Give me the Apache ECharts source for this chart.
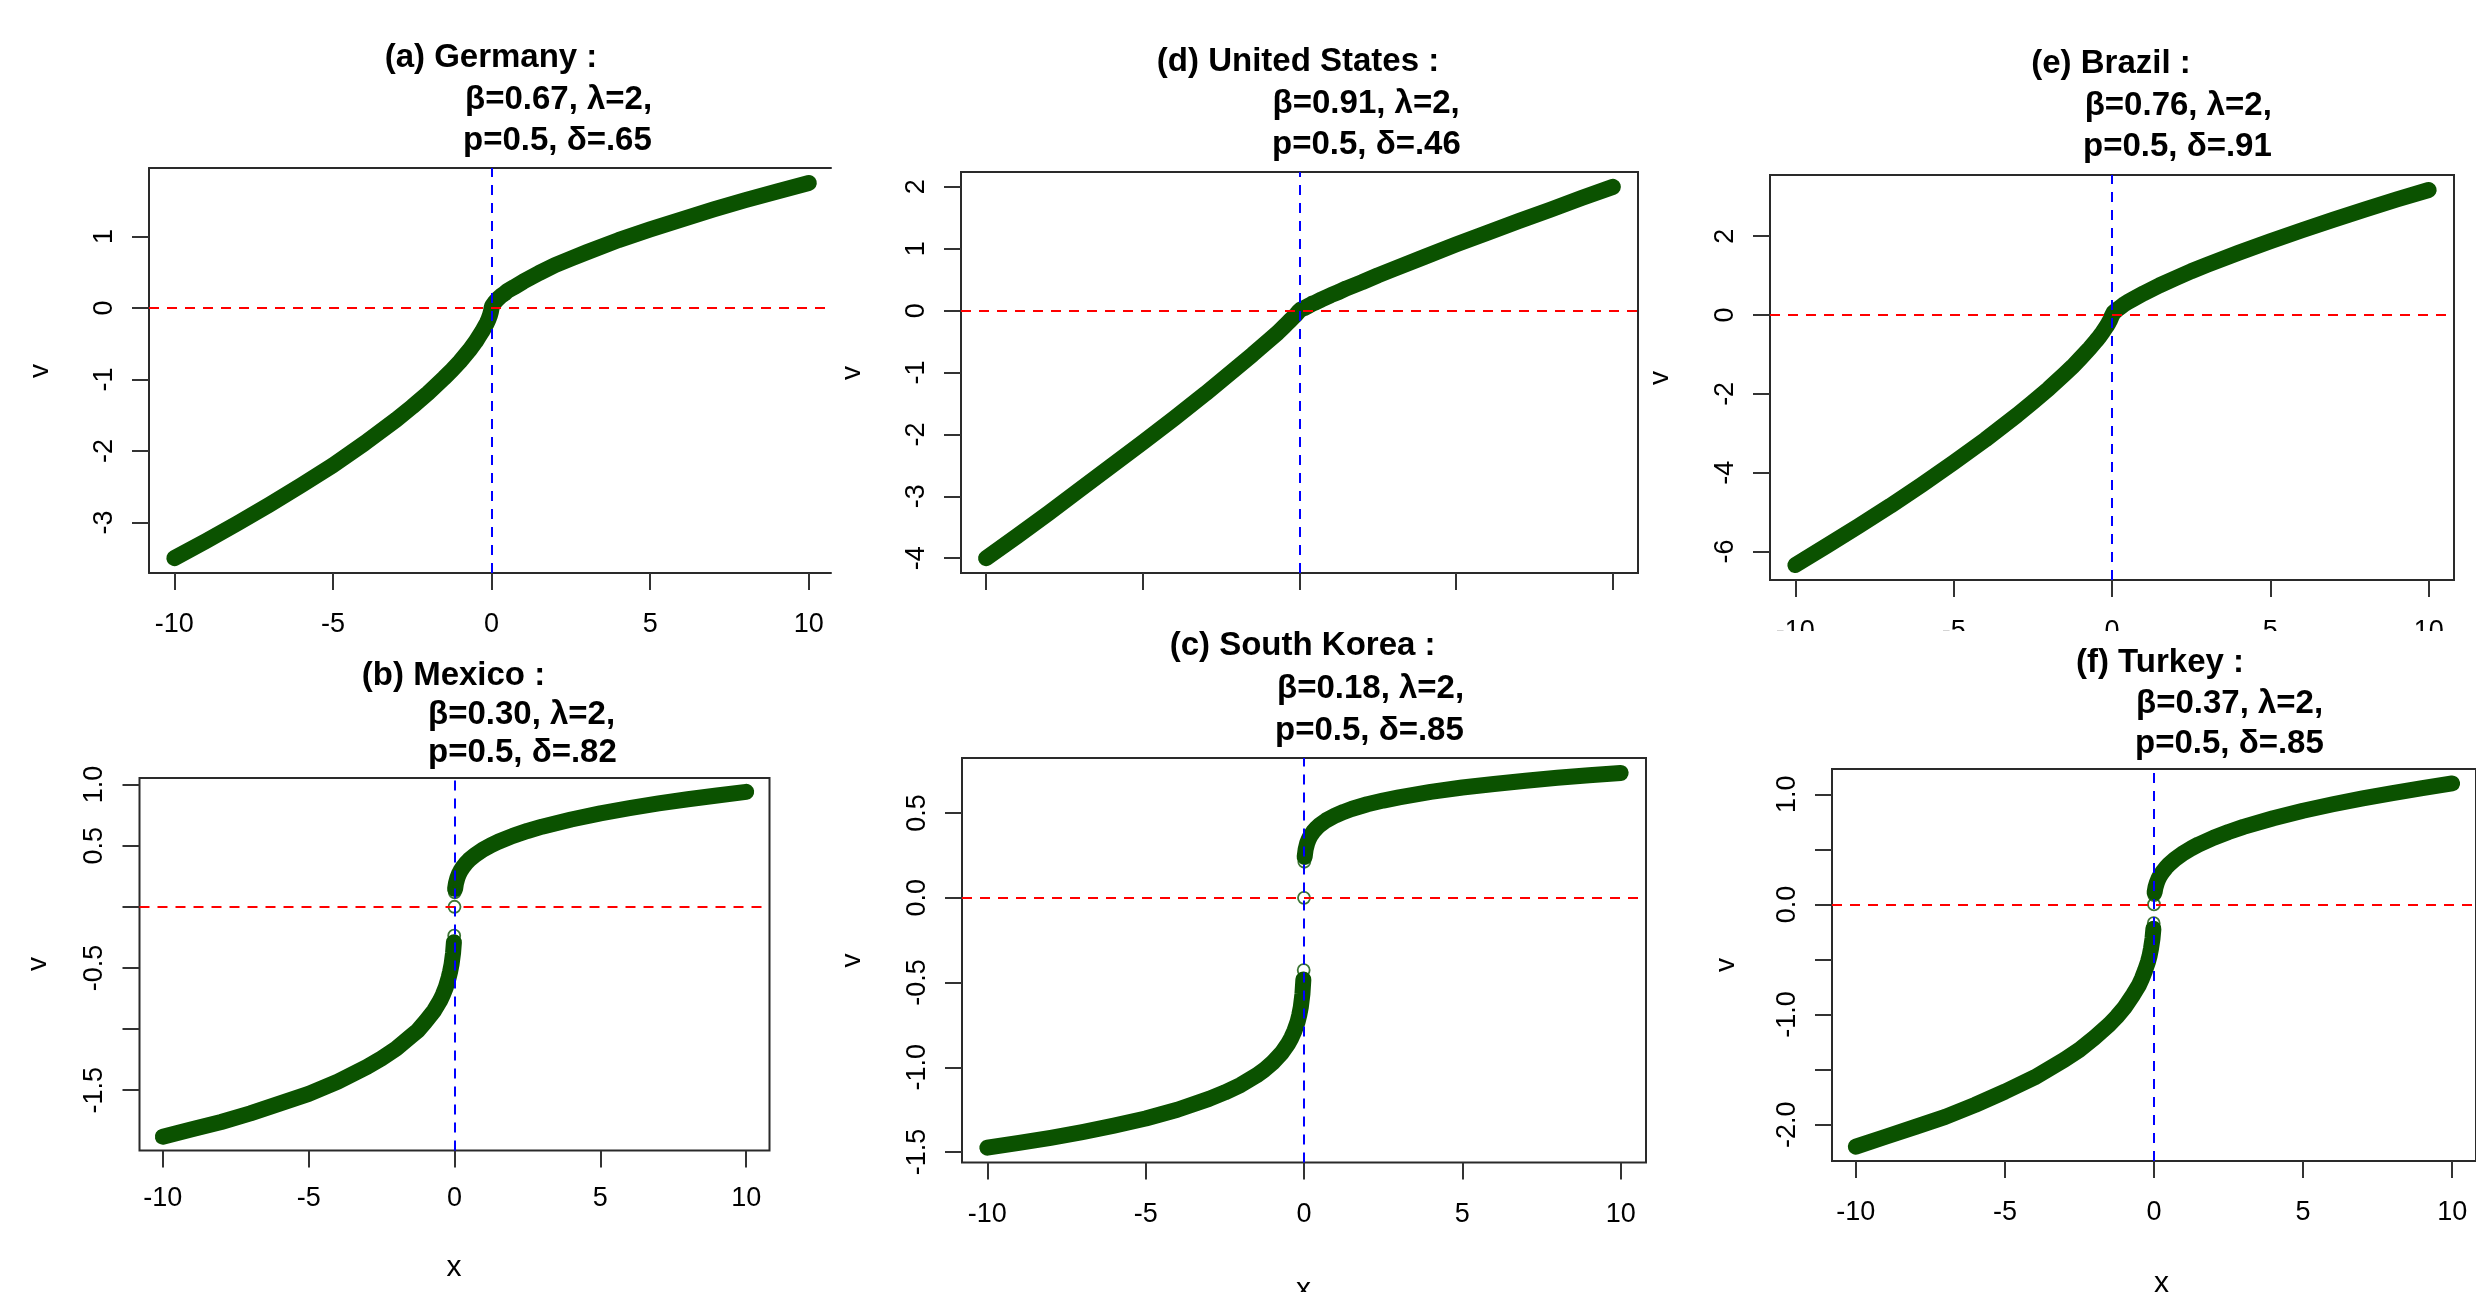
<!DOCTYPE html>
<html>
<head>
<meta charset="utf-8">
<script src="https://cdn.jsdelivr.net/npm/echarts@6/dist/echarts.min.js"></script>
<style>html,body{margin:0;padding:0;background:#fff}#c{width:2476px;height:1292px}</style>
</head>
<body>
<div id="c"></div>
<script>
// ---------- data ----------
// |x| sample positions; gains are v(+x), losses are v(-x)
const xGrid = [0.01,0.02,0.05,0.1,0.15,0.2,0.3,0.4,0.5,0.7,1,1.25,1.5,2,2.5,3,4,5,6,7,8,9,10];

const germanyGain = [0.02,0.03,0.05,0.08,0.10,0.13,0.17,0.20,0.24,0.29,0.37,0.43,0.49,0.60,0.69,0.78,0.95,1.10,1.24,1.38,1.51,1.63,1.75];
const germanyLoss = [-0.03,-0.05,-0.10,-0.16,-0.21,-0.25,-0.33,-0.40,-0.47,-0.59,-0.75,-0.87,-0.98,-1.19,-1.38,-1.56,-1.89,-2.20,-2.48,-2.75,-3.01,-3.26,-3.50];

const usaGain = [0.00,0.01,0.02,0.03,0.04,0.06,0.08,0.11,0.13,0.18,0.25,0.30,0.36,0.46,0.57,0.67,0.87,1.07,1.26,1.45,1.63,1.82,2.00];
const usaLoss = [-0.01,-0.01,-0.03,-0.06,-0.09,-0.11,-0.16,-0.21,-0.26,-0.36,-0.49,-0.60,-0.71,-0.92,-1.13,-1.34,-1.74,-2.13,-2.51,-2.89,-3.27,-3.64,-4.00];

const brazilGain = [0.02,0.03,0.06,0.10,0.13,0.16,0.22,0.28,0.33,0.42,0.55,0.65,0.75,0.93,1.11,1.27,1.58,1.87,2.15,2.42,2.68,2.93,3.17];
const brazilLoss = [-0.03,-0.06,-0.11,-0.19,-0.26,-0.32,-0.44,-0.55,-0.65,-0.84,-1.10,-1.31,-1.50,-1.87,-2.21,-2.54,-3.16,-3.74,-4.30,-4.84,-5.35,-5.85,-6.34];

const mexicoGain = [0.118,0.146,0.192,0.236,0.267,0.291,0.328,0.358,0.383,0.423,0.471,0.504,0.532,0.580,0.620,0.655,0.714,0.764,0.806,0.845,0.879,0.910,0.940];
const mexicoLoss = [-0.236,-0.29,-0.38,-0.47,-0.53,-0.58,-0.66,-0.72,-0.77,-0.85,-0.94,-1.01,-1.06,-1.16,-1.24,-1.31,-1.43,-1.53,-1.61,-1.69,-1.76,-1.82,-1.88];

const koreaGain = [0.213,0.241,0.284,0.322,0.346,0.365,0.392,0.413,0.430,0.457,0.487,0.507,0.524,0.552,0.574,0.593,0.625,0.651,0.672,0.691,0.708,0.723,0.737];
const koreaLoss = [-0.426,-0.482,-0.568,-0.644,-0.692,-0.730,-0.784,-0.826,-0.860,-0.914,-0.974,-1.014,-1.048,-1.104,-1.148,-1.186,-1.250,-1.302,-1.344,-1.382,-1.416,-1.446,-1.474];

const turkeyGain = [0.085,0.11,0.155,0.20,0.233,0.259,0.30,0.334,0.363,0.411,0.469,0.509,0.545,0.606,0.658,0.704,0.783,0.851,0.910,0.963,1.012,1.057,1.099];
const turkeyLoss = [-0.17,-0.22,-0.31,-0.40,-0.47,-0.52,-0.60,-0.67,-0.73,-0.82,-0.94,-1.02,-1.09,-1.21,-1.32,-1.41,-1.57,-1.70,-1.82,-1.93,-2.02,-2.11,-2.20];

// tick values / labels
const xTicks = [-10,-5,0,5,10];
const germanyTicks = [-3,-2,-1,0,1];
const usaTicks = [-4,-3,-2,-1,0,1,2];
const brazilTicks = [-6,-4,-2,0,2];
const mexicoTicks = [-1.5,-1,-0.5,0,0.5,1];
const mexicoLabels = [-1.5,-0.5,0.5,1];
const koreaTicks = [-1.5,-1,-0.5,0,0.5];
const turkeyTicks = [-2,-1.5,-1,-0.5,0,0.5,1];
const turkeyLabels = [-2,-1,0,1];

const titles = [
  ['(a) Germany :', 'β=0.67, λ=2,', 'p=0.5, δ=.65'],
  ['(d) United States :', 'β=0.91, λ=2,', 'p=0.5, δ=.46'],
  ['(e) Brazil :', 'β=0.76, λ=2,', 'p=0.5, δ=.91'],
  ['(b) Mexico :', 'β=0.30, λ=2,', 'p=0.5, δ=.82'],
  ['(c) South Korea :', 'β=0.18, λ=2,', 'p=0.5, δ=.85'],
  ['(f) Turkey :', 'β=0.37, λ=2,', 'p=0.5, δ=.85']
];

// ---------- layout ----------
const panels = [
  {gain: germanyGain, loss: germanyLoss, yt: germanyTicks, yl: germanyTicks, dec: 0, split: false,
   grid: {left: 149, top: 168, width: 682, height: 405}, xmax: 10.7, ymin: -3.708, ymax: 1.959,
   noRight: true, xLab: true, xm: 38, t: [491, 58, 465, 99.5, 463, 141], v: [40.6, 371], x: null},
  {gain: usaGain, loss: usaLoss, yt: usaTicks, yl: usaTicks, dec: 0, split: false,
   grid: {left: 961, top: 172, width: 677, height: 401}, xmax: 10.8, ymin: -4.24, ymax: 2.24,
   xLab: false, xm: 38, t: [1298, 62, 1272.6, 103.6, 1272, 145], v: [852, 373], x: null},
  {gain: brazilGain, loss: brazilLoss, yt: brazilTicks, yl: brazilTicks, dec: 0, split: false,
   grid: {left: 1770, top: 175, width: 684, height: 405}, xmax: 10.8, ymin: -6.72, ymax: 3.55,
   xLab: true, xm: 38, t: [2111, 64.3, 2084.7, 105.7, 2083, 147], v: [1660.5, 378], x: null},
  {gain: mexicoGain, loss: mexicoLoss, yt: mexicoTicks, yl: mexicoLabels, dec: 1, split: true,
   grid: {left: 139.5, top: 778, width: 630, height: 372.5}, xmax: 10.8, ymin: -1.993, ymax: 1.053,
   xLab: true, xm: 35, t: [453.5, 676, 428, 715, 428, 752.5], v: [38, 964], x: [454, 1268]},
  {gain: koreaGain, loss: koreaLoss, yt: koreaTicks, yl: koreaTicks, dec: 1, split: true,
   grid: {left: 962, top: 758, width: 684, height: 404.6}, xmax: 10.8, ymin: -1.562, ymax: 0.825,
   xLab: true, xm: 38, t: [1302.6, 645.7, 1277, 688.6, 1275, 731.4], v: [852.5, 960.5], x: [1303.5, 1290]},
  {gain: turkeyGain, loss: turkeyLoss, yt: turkeyTicks, yl: turkeyLabels, dec: 1, split: true,
   grid: {left: 1832, top: 769, width: 661, height: 392}, xmax: 10.8, ymin: -2.33, ymax: 1.23,
   xLab: true, xm: 38, t: [2160, 663, 2136, 703.6, 2135, 744], v: [1726, 965], x: [2161.6, 1284]}
];

const GREEN = '#0b5200';
const FONT = "'Liberation Sans', Arial, Helvetica, sans-serif";
const FRAME = '#2a2a2a';

const grids = [], xAxes = [], yAxes = [], series = [], graphics = [];

panels.forEach((p, i) => {
  grids.push(Object.assign({show: !p.noRight, borderColor: FRAME, borderWidth: 2, backgroundColor: 'transparent'}, p.grid));
  const xi = xAxes.length;
  xAxes.push({
    type: 'value', gridIndex: i, min: -10.8, max: p.xmax, position: 'bottom',
    axisLine: {show: !!p.noRight, onZero: false, lineStyle: {color: FRAME, width: 2}},
    axisTick: {show: true, length: 17, customValues: xTicks, lineStyle: {color: '#333', width: 2}},
    axisLabel: {show: p.xLab, customValues: xTicks, margin: p.xm, fontSize: 27, color: '#000', fontFamily: FONT},
    splitLine: {show: false}
  });
  if (p.noRight) {
    xAxes.push({type: 'value', gridIndex: i, position: 'top', min: -10.8, max: p.xmax,
      axisLine: {show: true, onZero: false, lineStyle: {color: FRAME, width: 2}}, axisTick: {show: false},
      axisLabel: {show: false}, splitLine: {show: false}});
  }
  const yi = yAxes.length;
  yAxes.push({
    type: 'value', gridIndex: i, min: p.ymin, max: p.ymax, position: 'left',
    axisLine: {show: !!p.noRight, onZero: false, lineStyle: {color: FRAME, width: 2}},
    axisTick: {show: true, length: 17, customValues: p.yt, lineStyle: {color: '#333', width: 2}},
    axisLabel: {show: true, customValues: p.yl, rotate: 90, margin: 31, fontSize: 27, color: '#000', fontFamily: FONT,
      formatter: v => p.dec ? Number(v).toFixed(1) : String(Math.round(v))},
    splitLine: {show: false}
  });

  const lineBase = {type: 'line', xAxisIndex: xi, yAxisIndex: yi, showSymbol: false, silent: true,
    animation: false, z: 2, smooth: false,
    lineStyle: {width: 16, color: GREEN, cap: 'round', join: 'round'}};

  if (!p.split) {
    const d = [];
    for (let k = xGrid.length - 1; k >= 0; k--) d.push([-xGrid[k], p.loss[k]]);
    d.push([0, 0]);
    for (let k = 0; k < xGrid.length; k++) d.push([xGrid[k], p.gain[k]]);
    series.push(Object.assign({}, lineBase, {data: d}));
  } else {
    const neg = [], pos = [];
    for (let k = xGrid.length - 1; k >= 1; k--) neg.push([-xGrid[k], p.loss[k]]);
    for (let k = 1; k < xGrid.length; k++) pos.push([xGrid[k], p.gain[k]]);
    series.push(Object.assign({}, lineBase, {data: neg}));
    series.push(Object.assign({}, lineBase, {data: pos}));
    series.push({type: 'scatter', xAxisIndex: xi, yAxisIndex: yi, silent: true, animation: false, z: 3,
      symbol: 'circle', symbolSize: 12,
      itemStyle: {color: 'rgba(255,255,255,0)', borderColor: GREEN, borderWidth: 1.8},
      data: [[-xGrid[0], p.loss[0]], [0, 0], [xGrid[0], p.gain[0]]]});
  }
  // reference lines v=0 (red) and x=0 (blue)
  series.push({type: 'line', xAxisIndex: xi, yAxisIndex: yi, data: [], silent: true, animation: false, z: 5,
    markLine: {silent: true, symbol: ['none', 'none'], label: {show: false}, animation: false,
      data: [
        {yAxis: 0, lineStyle: {color: '#ff0000', type: [10, 8], width: 2}},
        {xAxis: 0, lineStyle: {color: '#0000ff', type: [10, 8], width: 2}}
      ]}});

  // titles
  const t = titles[i];
  const tf = "bold 33px " + FONT;
  graphics.push({type: 'text', x: p.t[0], y: p.t[1], z: 10, style: {text: t[0], font: tf, fill: '#000',
    textAlign: 'center', textVerticalAlign: 'middle', align: 'center', verticalAlign: 'middle'}});
  graphics.push({type: 'text', x: p.t[2], y: p.t[3], z: 10, style: {text: t[1], font: tf, fill: '#000',
    textAlign: 'left', textVerticalAlign: 'middle', align: 'left', verticalAlign: 'middle'}});
  graphics.push({type: 'text', x: p.t[4], y: p.t[5], z: 10, style: {text: t[2], font: tf, fill: '#000',
    textAlign: 'left', textVerticalAlign: 'middle', align: 'left', verticalAlign: 'middle'}});
  // axis titles
  graphics.push({type: 'text', x: p.v[0], y: p.v[1], rotation: Math.PI / 2, z: 10, style: {text: 'v',
    font: "28px " + FONT, fill: '#000', textAlign: 'center', textVerticalAlign: 'middle', align: 'center', verticalAlign: 'middle'}});
  if (p.x) {
    graphics.push({type: 'text', x: p.x[0], y: p.x[1], z: 10, style: {text: 'x',
      font: "30px " + FONT, fill: '#000', textAlign: 'center', textVerticalAlign: 'middle', align: 'center', verticalAlign: 'middle'}});
  }
});

// the (f) picture overlaps the bottom of (e)'s tick labels
graphics.push({type: 'rect', z: 100, shape: {x: 1740, y: 631, width: 736, height: 14}, style: {fill: '#fff'}});

const chart = echarts.init(document.getElementById('c'), null, {renderer: 'canvas'});
chart.setOption({
  animation: false,
  backgroundColor: '#fff',
  grid: grids, xAxis: xAxes, yAxis: yAxes, series: series,
  graphic: {elements: graphics}
});
</script>
</body>
</html>
